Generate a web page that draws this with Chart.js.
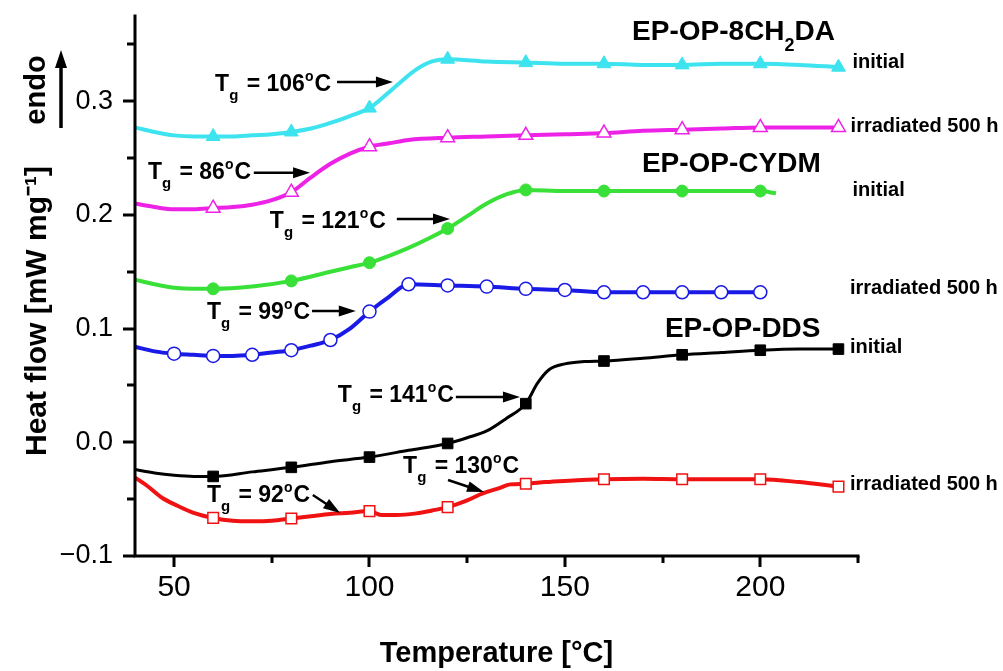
<!DOCTYPE html>
<html>
<head>
<meta charset="utf-8">
<script src="https://cdn.jsdelivr.net/npm/chart.js@4.4.0/dist/chart.umd.min.js"></script>
<style>
html,body{margin:0;padding:0;background:#fff;}
canvas{display:block;}
</style>
</head>
<body>
<canvas id="c" width="1003" height="671"></canvas>
<script>
// ---------------- data ----------------
const xTickValues = [50, 100, 150, 200];
const xMinorTicks = [75, 125, 175, 225];
const yTickValues = [-0.1, 0.0, 0.1, 0.2, 0.3];
const yMinorTicks = [-0.05, 0.05, 0.15, 0.25, 0.35];

// EP-OP-8CH2DA, initial (cyan)
const a8InitT = [40,45,50,55,60,65,70,75,80,85,90,95,100,104,108,112,116,120,130,140,150,160,170,180,190,200,210,220];
const a8InitV = [0.277,0.273,0.270,0.269,0.269,0.269,0.270,0.271,0.273,0.276,0.281,0.287,0.294,0.305,0.317,0.328,0.335,0.337,0.335,0.334,0.333,0.333,0.332,0.332,0.333,0.333,0.332,0.330];
const a8InitMarkT = [60,80,100,120,140,160,180,200,220];
const a8InitMarkV = [0.269,0.273,0.294,0.337,0.334,0.333,0.332,0.333,0.330];

// EP-OP-8CH2DA, irradiated 500 h (magenta)
const a8IrrT = [40,45,50,55,60,65,70,75,80,85,90,95,100,105,110,120,130,140,150,160,170,180,190,200,210,220];
const a8IrrV = [0.210,0.207,0.205,0.205,0.206,0.207,0.209,0.213,0.220,0.233,0.245,0.254,0.260,0.263,0.266,0.268,0.269,0.270,0.271,0.272,0.274,0.275,0.276,0.277,0.277,0.277];
const a8IrrMarkT = [60,80,100,120,140,160,180,200,220];
const a8IrrMarkV = [0.206,0.220,0.260,0.268,0.270,0.272,0.275,0.277,0.277];

// EP-OP-CYDM, initial (green)
const cyInitT = [40,45,50,55,60,70,80,90,95,100,105,110,115,120,125,130,135,140,150,160,170,180,190,200,204];
const cyInitV = [0.143,0.139,0.136,0.135,0.135,0.137,0.142,0.150,0.154,0.158,0.164,0.171,0.179,0.188,0.199,0.210,0.218,0.222,0.221,0.221,0.221,0.221,0.221,0.221,0.219];
const cyInitMarkT = [60,80,100,120,140,160,180,200];
const cyInitMarkV = [0.135,0.142,0.158,0.188,0.222,0.221,0.221,0.221];

// EP-OP-CYDM, irradiated 500 h (blue)
const cyIrrT = [40,45,50,55,60,65,70,75,80,85,90,95,100,105,110,120,130,140,150,160,170,180,190,200];
const cyIrrV = [0.084,0.080,0.078,0.077,0.076,0.076,0.077,0.079,0.081,0.085,0.090,0.100,0.115,0.128,0.139,0.138,0.137,0.135,0.134,0.132,0.132,0.132,0.132,0.132];
const cyIrrMarkT = [50,60,70,80,90,100,110,120,130,140,150,160,170,180,190,200];
const cyIrrMarkV = [0.078,0.076,0.077,0.081,0.090,0.115,0.139,0.138,0.137,0.135,0.134,0.132,0.132,0.132,0.132,0.132];

// EP-OP-DDS, initial (black)
const ddInitT = [40,45,50,55,60,70,80,90,100,110,120,125,130,135,140,143,146,150,155,160,170,180,190,200,210,220];
const ddInitV = [-0.024,-0.027,-0.029,-0.030,-0.030,-0.026,-0.022,-0.017,-0.013,-0.007,-0.001,0.004,0.010,0.021,0.034,0.052,0.064,0.069,0.071,0.0715,0.074,0.077,0.079,0.081,0.082,0.082];
const ddInitMarkT = [60,80,100,120,140,160,180,200,220];
const ddInitMarkV = [-0.030,-0.022,-0.013,-0.001,0.034,0.0715,0.077,0.081,0.082];

// EP-OP-DDS, irradiated 500 h (red)
const ddIrrT = [40,43,47,51,55,60,65,70,75,80,85,90,95,100,103,107,112,116,120,125,129,133,136,140,145,150,160,170,180,190,200,210,220];
const ddIrrV = [-0.031,-0.038,-0.049,-0.056,-0.062,-0.0665,-0.069,-0.0695,-0.069,-0.067,-0.065,-0.063,-0.062,-0.0605,-0.064,-0.064,-0.0625,-0.060,-0.057,-0.051,-0.045,-0.0405,-0.037,-0.0365,-0.035,-0.034,-0.0325,-0.032,-0.0325,-0.0325,-0.0325,-0.035,-0.039];
const ddIrrMarkT = [60,80,100,120,140,160,180,200,220];
const ddIrrMarkV = [-0.0665,-0.067,-0.0605,-0.057,-0.0365,-0.0325,-0.0325,-0.0325,-0.039];

// ---------------- styles / layout ----------------
const FONT = "'Liberation Sans', Arial, Helvetica, sans-serif";
const C_CYAN = '#3de3ee', C_MAG = '#ee22e6', C_GREEN = '#38e038', C_BLUE = '#1a1ae6', C_BLACK = '#000000', C_RED = '#f01212';

const pts = (T, V) => T.map((t, i) => ({x: t, y: V[i]}));
function curve(T, V, color, width) {
  return {data: pts(T, V), borderColor: color, borderWidth: width, pointRadius: 0,
          cubicInterpolationMode: 'monotone', fill: false, order: 2};
}
function markers(T, V, style, color, fill, r, bw) {
  return {data: pts(T, V), showLine: false, pointStyle: style, pointRadius: r,
          pointBackgroundColor: fill, pointBorderColor: color, pointBorderWidth: bw, order: 1};
}

// annotations (positions in data units: temperature, heat flow)
const tgNotes = [
  {v: '106', tx: 60.5, ty: 0.3161, a: [91.7, 0.3169, 106.0, 0.3169]},
  {v: '86',  tx: 43.3, ty: 0.2387, a: [70.4, 0.2372, 84.8, 0.2372]},
  {v: '121', tx: 74.5, ty: 0.1956, a: [107.0, 0.1964, 120.6, 0.1964]},
  {v: '99',  tx: 58.4, ty: 0.1159, a: [85.3, 0.1155, 96.5, 0.1155]},
  {v: '141', tx: 91.9, ty: 0.0429, a: [122.1, 0.0399, 138.5, 0.0399]},
  {v: '130', tx: 108.6, ty: -0.0200, a: [120.1, -0.0331, 129.3, -0.0437]},
  {v: '92',  tx: 58.4, ty: -0.0450, a: [85.5, -0.0463, 92.5, -0.0622]}
];
const groupLabels = [
  {parts: [{t: 'EP-OP-8CH'}, {t: '2', k: 'sub'}, {t: 'DA'}], x: 167.2, y: 0.3627},
  {parts: [{t: 'EP-OP-CYDM'}], x: 169.7, y: 0.2466},
  {parts: [{t: 'EP-OP-DDS'}], x: 175.6, y: 0.1014}
];
const stateLabels = [
  {t: 'initial', x: 223.6, y: 0.3337},
  {t: 'irradiated 500 h', x: 223.1, y: 0.2782},
  {t: 'initial', x: 223.6, y: 0.2219},
  {t: 'irradiated 500 h', x: 222.95, y: 0.1357},
  {t: 'initial', x: 222.95, y: 0.0830},
  {t: 'irradiated 500 h', x: 222.95, y: -0.0375}
];

function richText(ctx, x, yMid, parts, size) {
  const base = yMid + size * 0.355;
  let cx = x;
  ctx.textAlign = 'left';
  ctx.textBaseline = 'alphabetic';
  for (const p of parts) {
    let fs = size, by = base;
    if (p.k === 'sub') { fs = Math.round(size * 0.65); by = base + size * 0.40; }
    else if (p.k === 'sup') { fs = Math.round(size * 0.62); by = base - size * 0.43; }
    ctx.font = `bold ${fs}px ${FONT}`;
    ctx.fillText(p.t, cx, by);
    cx += ctx.measureText(p.t).width + (p.gap || 0);
  }
}
function arrow(ctx, x1, y1, x2, y2, L, W, lw) {
  const ang = Math.atan2(y2 - y1, x2 - x1);
  const c = Math.cos(ang), s = Math.sin(ang);
  ctx.lineWidth = lw;
  ctx.beginPath();
  ctx.moveTo(x1, y1);
  ctx.lineTo(x2 - L * 0.7 * c, y2 - L * 0.7 * s);
  ctx.stroke();
  ctx.beginPath();
  ctx.moveTo(x2, y2);
  ctx.lineTo(x2 - L * c + W * s, y2 - L * s - W * c);
  ctx.lineTo(x2 - L * c - W * s, y2 - L * s + W * c);
  ctx.closePath();
  ctx.fill();
}

const decor = {
  id: 'decor',
  afterDraw(chart) {
    const {ctx, chartArea: ca, scales: {x, y}} = chart;
    const X = v => x.getPixelForValue(v), Y = v => y.getPixelForValue(v);
    ctx.save();
    ctx.strokeStyle = '#000';
    ctx.fillStyle = '#000';
    // axis lines
    ctx.lineWidth = 3;
    ctx.lineCap = 'square';
    ctx.beginPath();
    ctx.moveTo(ca.left, ca.top);
    ctx.lineTo(ca.left, ca.bottom);
    ctx.lineTo(ca.right, ca.bottom);
    ctx.stroke();
    ctx.lineCap = 'butt';
    // ticks
    ctx.lineWidth = 3;
    ctx.beginPath();
    for (const v of yTickValues) { const p = Math.round(Y(v)); ctx.moveTo(ca.left - 12, p); ctx.lineTo(ca.left, p); }
    for (const v of yMinorTicks) { const p = Math.round(Y(v)); ctx.moveTo(ca.left - 8, p); ctx.lineTo(ca.left, p); }
    for (const v of xTickValues) { const p = Math.round(X(v)); ctx.moveTo(p, ca.bottom); ctx.lineTo(p, ca.bottom + 11); }
    for (const v of xMinorTicks) { const p = Math.round(X(v)); ctx.moveTo(p, ca.bottom); ctx.lineTo(p, ca.bottom + 7); }
    ctx.stroke();

    // Tg annotations
    for (const n of tgNotes) {
      richText(ctx, X(n.tx), Y(n.ty), [
        {t: 'T'}, {t: 'g', k: 'sub', gap: 2}, {t: ' = ' + n.v}, {t: 'o', k: 'sup', gap: 1}, {t: 'C'}
      ], 23);
      arrow(ctx, X(n.a[0]), Y(n.a[1]), X(n.a[2]), Y(n.a[3]), 17, 5.5, 2.5);
    }
    // group labels
    for (const g of groupLabels) richText(ctx, X(g.x), Y(g.y), g.parts, 28);
    // state labels
    ctx.font = `bold 20px ${FONT}`;
    ctx.textAlign = 'left';
    ctx.textBaseline = 'middle';
    for (const s of stateLabels) ctx.fillText(s.t, X(s.x), Y(s.y));

    // "endo" with upward arrow, left of the y axis
    ctx.save();
    ctx.translate(ca.left - 98, ca.top + 74);
    ctx.rotate(-Math.PI / 2);
    ctx.font = `bold 29px ${FONT}`;
    ctx.textAlign = 'center';
    ctx.textBaseline = 'middle';
    ctx.fillText('endo', 0, 0);
    ctx.restore();
    arrow(ctx, ca.left - 74, ca.top + 112, ca.left - 74, ca.top + 34, 18, 6, 3.5);
    ctx.restore();
  }
};

new Chart(document.getElementById('c'), {
  type: 'line',
  data: {
    datasets: [
      markers(a8InitMarkT, a8InitMarkV, 'triangle', C_CYAN, C_CYAN, 8, 1),
      markers(a8IrrMarkT, a8IrrMarkV, 'triangle', C_MAG, '#ffffff', 8, 1.5),
      markers(cyInitMarkT, cyInitMarkV, 'circle', C_GREEN, C_GREEN, 6, 1),
      markers(cyIrrMarkT, cyIrrMarkV, 'circle', C_BLUE, '#ffffff', 6.5, 1.5),
      markers(ddInitMarkT, ddInitMarkV, 'rect', C_BLACK, C_BLACK, 7.5, 1),
      markers(ddIrrMarkT, ddIrrMarkV, 'rect', C_RED, '#ffffff', 7.5, 1.5),
      curve(a8InitT, a8InitV, C_CYAN, 4),
      curve(a8IrrT, a8IrrV, C_MAG, 4),
      curve(cyInitT, cyInitV, C_GREEN, 4),
      curve(cyIrrT, cyIrrV, C_BLUE, 4),
      curve(ddInitT, ddInitV, C_BLACK, 3),
      curve(ddIrrT, ddIrrV, C_RED, 4)
    ]
  },
  options: {
    responsive: false,
    animation: false,
    devicePixelRatio: 1,
    events: [],
    layout: {padding: {left: 0, right: 145, top: 16, bottom: 0}},
    plugins: {legend: {display: false}, tooltip: {enabled: false}},
    scales: {
      x: {
        type: 'linear', position: 'bottom', min: 40, max: 225,
        grid: {display: false, drawTicks: false}, border: {display: false},
        afterBuildTicks: s => { s.ticks = xTickValues.map(v => ({value: v})); },
        afterFit: s => { s.height = 115; s.paddingLeft = 0; s.paddingRight = 0; },
        ticks: {color: '#000', font: {family: FONT, size: 30}, padding: 14, maxRotation: 0,
                callback: v => String(v)},
        title: {display: true, text: 'Temperature [°C]', color: '#000',
                font: {family: FONT, size: 29, weight: 'bold'}, padding: {top: 0, bottom: 0}}
      },
      y: {
        type: 'linear', position: 'left', min: -0.1, max: 0.375,
        grid: {display: false, drawTicks: false}, border: {display: false},
        afterBuildTicks: s => { s.ticks = yTickValues.map(v => ({value: v})); },
        afterFit: s => { s.width = 135; s.paddingTop = 0; s.paddingBottom = 0; },
        ticks: {color: '#000', font: {family: FONT, size: 27}, padding: 22,
                callback: v => v.toFixed(1).replace('-', '\u2212')},
        title: {display: true, text: 'Heat flow [mW mg\u207B\u00B9]\u00A0\u00A0\u00A0\u00A0\u00A0\u00A0', color: '#000',
                font: {family: FONT, size: 30, weight: 'bold'}, padding: {top: 20, bottom: 0}}
      }
    }
  },
  plugins: [decor]
});
</script>
</body>
</html>
